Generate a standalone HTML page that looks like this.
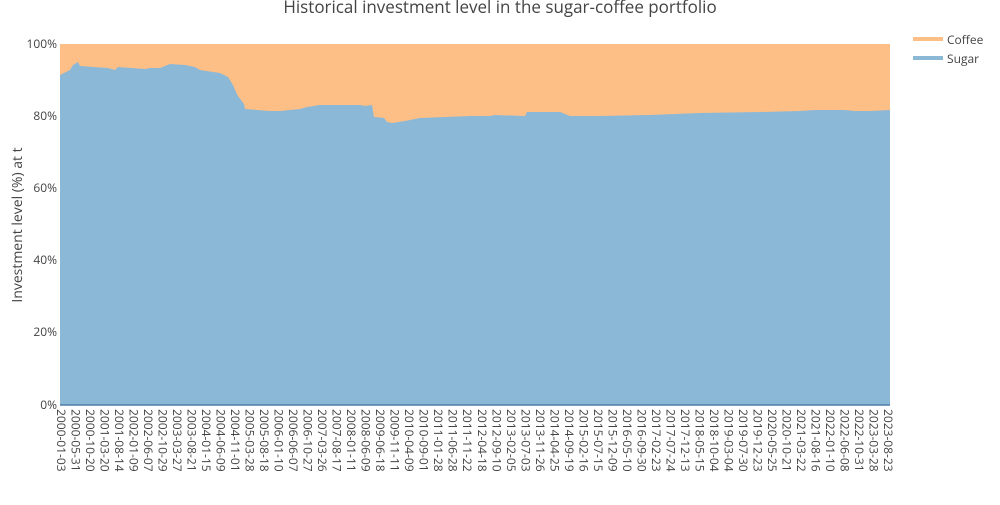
<!DOCTYPE html>
<html><head><meta charset="utf-8"><style>
body{margin:0;background:#fff;font-family:"Open Sans","Liberation Sans",sans-serif;}
svg text{font-family:"Open Sans","Liberation Sans",sans-serif;fill:#444;}
</style></head><body>
<svg width="1000" height="500" viewBox="0 0 1000 500" xmlns="http://www.w3.org/2000/svg">
<rect x="60" y="44" width="830" height="361" fill="#fdbf86"/>
<path fill="#8cb8d8" d="M60,75 L70,70 L73,65 L78,62 L80,66 L108,68 L115,70 L118,67 L145,69 L150,68 L160,68 L170,64 L185,65 L195,67 L200,70 L220,73 L228,77 L233,85 L236,92 L238,96 L244,104 L245,109 L270,111 L280,111 L300,109 L307,107 L320,105 L360,105 L365,106 L372,105 L374,117 L384,118 L387,122 L392,123 L405,121 L420,118 L445,117 L470,116 L490,116 L495,115 L525,116 L527,112 L560,112 L565,114 L570,116 L600,116 L650,115 L700,113 L760,112 L800,111 L815,110 L845,110 L855,111 L870,111 L890,110 L890,405 L60,405 Z"/>
<line x1="60" y1="405" x2="890" y2="405" stroke="#4e7ea8" stroke-width="1.5"/>
<g font-size="12" text-anchor="end">
<text x="57" y="48">100%</text><text x="57" y="120">80%</text><text x="57" y="192">60%</text>
<text x="57" y="264">40%</text><text x="57" y="336">20%</text><text x="57" y="409">0%</text>
</g>
<text x="500" y="13" font-size="17" text-anchor="middle">Historical investment level in the sugar-coffee portfolio</text>
<text transform="translate(22,225) rotate(-90)" font-size="14" text-anchor="middle">Investment level (%) at t</text>
<line x1="913" y1="39" x2="943" y2="39" stroke="#fdbf86" stroke-width="4"/>
<text x="947" y="44" font-size="12">Coffee</text>
<line x1="913" y1="58" x2="943" y2="58" stroke="#8cb8d8" stroke-width="4"/>
<text x="947" y="63" font-size="12">Sugar</text>
<g id="xt" font-size="12"></g>
</svg>
<script>
var L="2000-01-03 2000-05-31 2000-10-20 2001-03-20 2001-08-14 2002-01-09 2002-06-07 2002-10-29 2003-03-27 2003-08-21 2004-01-15 2004-06-09 2004-11-01 2005-03-28 2005-08-18 2006-01-10 2006-06-07 2006-10-27 2007-03-26 2007-08-17 2008-01-11 2008-06-09 2009-06-18 2009-11-11 2010-04-09 2010-09-01 2011-01-28 2011-06-28 2011-11-22 2012-04-18 2012-09-10 2013-02-05 2013-07-03 2013-11-26 2014-04-25 2014-09-19 2015-02-16 2015-07-15 2015-12-09 2016-05-10 2016-09-30 2017-02-23 2017-07-24 2017-12-13 2018-05-15 2018-10-04 2019-03-04 2019-07-30 2019-12-23 2020-05-25 2020-10-21 2021-03-22 2021-08-16 2022-01-10 2022-06-08 2022-10-31 2023-03-28 2023-08-23".split(" ");
var g=document.getElementById("xt"),s="";
for(var i=0;i<L.length;i++){var x=61+i*827/57;
s+='<text transform="translate('+(x-4).toFixed(1)+',409) rotate(90)">'+L[i]+'</text>';}
g.innerHTML=s;
</script>
</body></html>
